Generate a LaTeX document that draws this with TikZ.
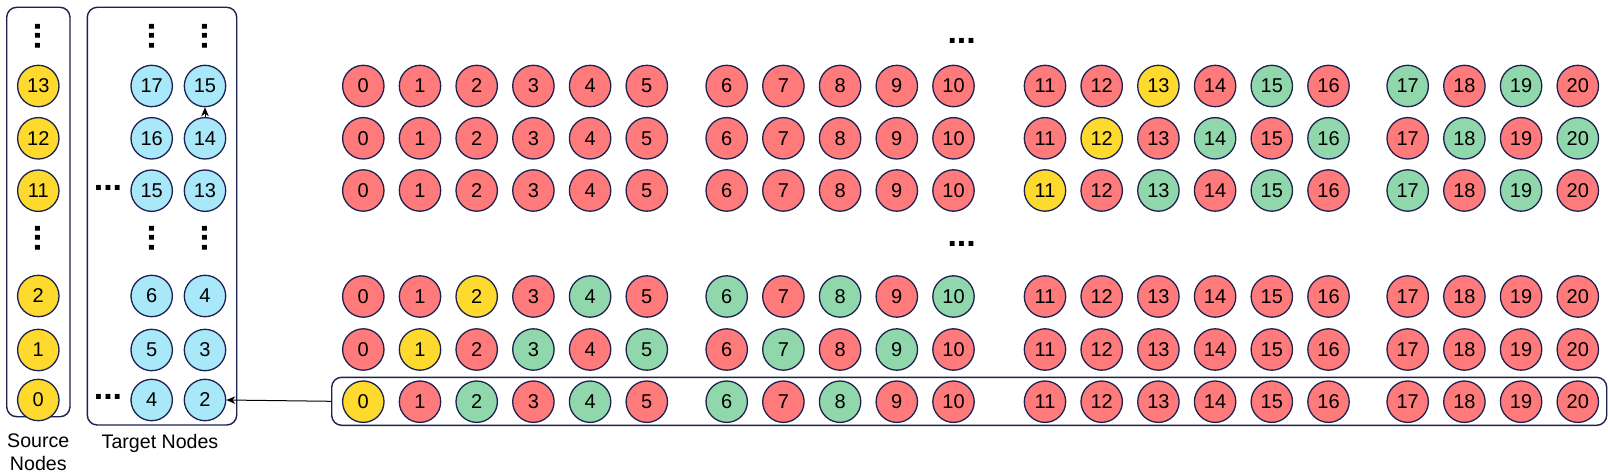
\documentclass[tikz,border=0pt]{standalone}
\usepackage{fontspec}
\setmainfont{Liberation Sans}
\usetikzlibrary{arrows.meta}
\definecolor{redc}{HTML}{FF7B7B}
\definecolor{grnc}{HTML}{90D8AC}
\definecolor{ylwc}{HTML}{FFDA2E}
\definecolor{cyac}{HTML}{A8E8F8}
\definecolor{edgec}{HTML}{1C2150}
\tikzset{
  circ/.style={circle, draw=edgec, line width=0.65pt, minimum size=20.7pt, inner sep=0pt, font=\fontsize{10}{10}\selectfont},
  panel/.style={draw=edgec, line width=0.7pt, rounded corners=5pt, inner sep=0pt},
  hdots/.style={font=\fontsize{17}{17}\selectfont\bfseries, inner sep=0pt},
  vdots/.style={hdots, rotate=90},
  lbl/.style={font=\fontsize{9.8}{11.5}\selectfont, align=center, inner sep=0pt},
  arr/.style={-{Stealth[length=4.5pt,width=3.8pt]}, line width=0.5pt, black}
}
\begin{document}
\begin{tikzpicture}[x=0.5pt,y=-0.5pt]
\useasboundingbox (0,0) rectangle (1608,476);
% panels
\node[panel, minimum width=31.65pt, minimum height=204.7pt] (srcbox) at (38.35,212) {};
\node[panel, minimum width=74.7pt, minimum height=208.85pt] (tgtbox) at (162,216.15) {};
\node[panel, minimum width=637.5pt, minimum height=24pt] (rowbox) at (969.2,401.3) {};
% source nodes
\foreach \v/\y [count=\k] in {13/86,12/138.3,11/190.7,2/296,1/350,0/400}
  \node[circ, fill=ylwc] (s\k) at (38.3,\y) {\v};
% target nodes
\foreach \a/\b/\y [count=\k] in {17/15/86,16/14/138.3,15/13/190.7,6/4/296,5/3/350,4/2/400}{
  \node[circ, fill=cyac] (ta\k) at (151.7,\y) {\a};
  \node[circ, fill=cyac] (tb\k) at (205,\y) {\b};
}
% dots in left panels
\foreach \x [count=\k] in {38.3,151.7,205}{
  \node[vdots] (vdt\k) at (\x,36) {...};
  \node[vdots] (vdm\k) at (\x,238) {...};
}
\node[hdots] (hd1) at (108,188) {...};
\node[hdots] (hd2) at (108,397) {...};
% main grid
\foreach \s/\y [count=\r] in {13/86,12/138.3,11/190.5,2/296.5,1/349.5,0/401.7}{
  \foreach \i in {0,...,20}{
    \pgfmathsetmacro\xx{\i<6 ? 363.3+56.7*\i : (\i<11 ? 726.7+56.7*(\i-6) : (\i<17 ? 1045+56.7*(\i-11) : 1407.7+56.7*(\i-17)))}
    \pgfmathtruncatemacro\d{\i-\s}
    \ifnum\d=0 \def\cc{ylwc}\else
      \ifnum\d>0
        \ifodd\d \def\cc{redc}\else
          \ifnum\d<9 \def\cc{grnc}\else \def\cc{redc}\fi
        \fi
      \else \def\cc{redc}\fi
    \fi
    \node[circ, fill=\cc] (n\r-\i) at (\xx,\y) {\i};
  }
}
\node[hdots] (md1) at (961.7,41) {...};
\node[hdots] (md2) at (961.7,244) {...};
% labels
\node[lbl] (srclbl) at (38.3,452) {Source\\Nodes};
\node[lbl] (tgtlbl) at (160,443) {Target Nodes};
% connectors
\draw[arr] (tb2.north) -- (tb1.south);
\draw[arr] (rowbox.west) -- (tb6.east);
\end{tikzpicture}
\end{document}
